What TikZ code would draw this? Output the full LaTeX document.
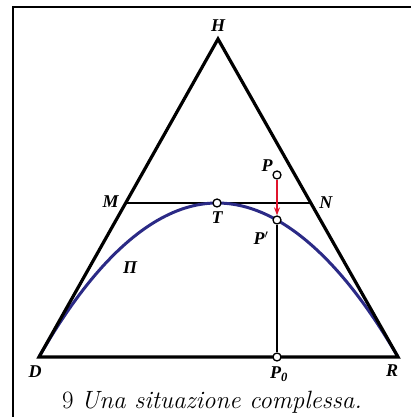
\documentclass[tikz,border=0pt]{standalone}
\usepackage{fontspec}
\usepackage{xcolor}
\usepackage{tikz}
\usetikzlibrary{arrows.meta,calc}
\newfontfamily\lblfont{Liberation Serif}
\definecolor{curveblue}{HTML}{2B2A86}
\definecolor{arrred}{HTML}{E0142C}

\begin{document}
\begin{tikzpicture}[x=1pt, y=1pt,
  side/.style={line width=3.2pt, line join=miter},
  thin line/.style={line width=1.5pt},
  pt/.style={circle, draw, fill=white, line width=1.3pt, inner sep=0pt, minimum size=8pt},
  lbl/.style={font=\lblfont\bfseries\itshape\fontsize{18}{18}\selectfont, inner sep=0pt},
  arr/.style={-{Stealth[length=8pt, width=6pt]}, line width=1.8pt, arrred},
]
\useasboundingbox (0,0) rectangle (411,417);
% frame
\draw[line width=2.6pt] (13,0) -- (13,410) -- (411,410);

\coordinate (H) at (218,378);
\coordinate (D) at (39,60);
\coordinate (R) at (398,60);
\coordinate (M) at (125.7,214);
\coordinate (N) at (310.8,214);
\coordinate (T) at (217,214);

\draw[thin line] (M) -- (N);
\draw[curveblue, line width=3pt] (D) parabola bend (T) (R);
\draw[side] (D) -- (H) -- (R) -- cycle;

\node[pt] (tp) at (T) {};
\node[pt] (pp) at (277,197) {};
\node[pt] (p) at (277,242) {};
\node[pt] (p0) at (277,60) {};

\draw[thin line] (pp) -- (p0);
\draw[arr] (p) -- (pp);

\node[lbl] at ($(H)+(0,13)$) {H};
\node[lbl] at ($(M)+(-15,1)$) {M};
\node[lbl] at ($(N)+(15,0)$) {N};
\node[lbl] at ($(tp)+(0,-15)$) {T};
\node[lbl] at ($(p)+(-10,9)$) {P};
\node[lbl] at ($(pp)+(-16,-18)$) {P$'$};
\node[lbl] at (130,149) {Π};
\node[lbl] at ($(D)+(-4,-15)$) {D};
\node[lbl] at ($(R)+(-6,-14)$) {R};
\node[lbl] at ($(p0)+(2,-17)$) {P\textsubscript{0}};

\node (caption) at (212,15) {\fontsize{25}{28}\selectfont 9 \textit{Una situazione complessa.}};
\end{tikzpicture}
\end{document}
